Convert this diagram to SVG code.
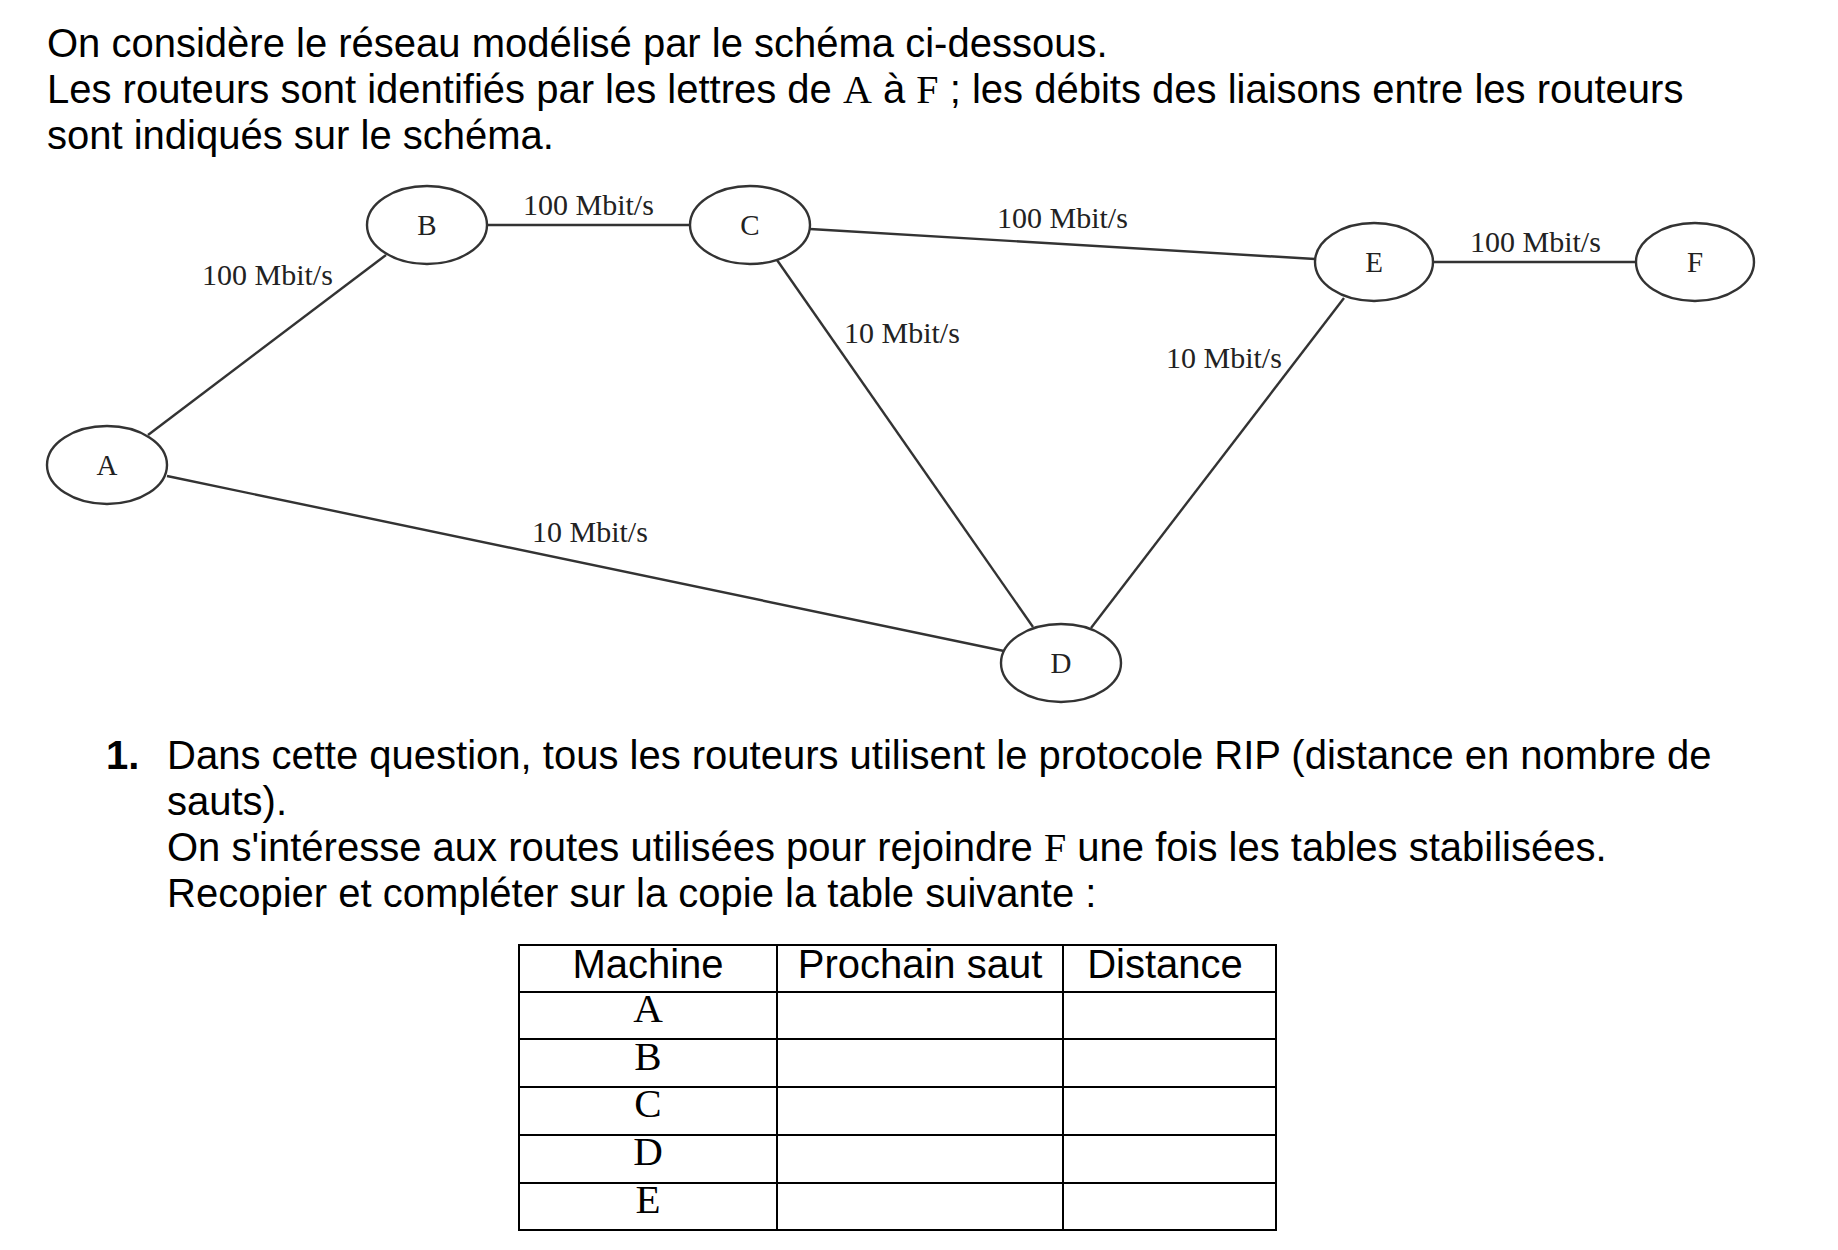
<svg xmlns="http://www.w3.org/2000/svg" width="1838" height="1250" viewBox="0 0 1838 1250">
<style>
.t{font-family:"Liberation Sans",Arial,sans-serif;font-size:40px;fill:#000}
.s{font-family:"Liberation Serif","Times New Roman",serif}
.b{font-weight:bold}
.lbl{font-family:"Liberation Serif","Times New Roman",serif;font-size:30px;fill:#222}
.nl{font-family:"Liberation Serif","Times New Roman",serif;font-size:29px;fill:#222;text-anchor:middle}
.node ellipse{fill:#fff;stroke:#333;stroke-width:2.4}
.edge{stroke:#333;stroke-width:2.4;fill:none}
.grid{stroke:#000;stroke-width:2;fill:none}
.th{font-family:"Liberation Sans",Arial,sans-serif;font-size:40px;text-anchor:middle}
.td{font-family:"Liberation Serif","Times New Roman",serif;font-size:41px;text-anchor:middle}
</style>
<rect width="1838" height="1250" fill="#fff"/>
<g id="intro">
<text class="t" x="47" y="57">On considère le réseau modélisé par le schéma ci-dessous.</text>
<text class="t" x="47" y="103">Les routeurs sont identifiés par les lettres de <tspan class="s">A</tspan> à <tspan class="s">F</tspan> ; les débits des liaisons entre les routeurs</text>
<text class="t" x="47" y="149">sont indiqués sur le schéma.</text>
</g>
<g id="connectors">
<line class="edge" x1="148" y1="435" x2="386" y2="255"/>
<line class="edge" x1="488" y1="225" x2="690" y2="225"/>
<line class="edge" x1="810" y1="229" x2="1315" y2="259"/>
<line class="edge" x1="1433" y1="262" x2="1635" y2="262"/>
<line class="edge" x1="777" y1="260" x2="1033" y2="627"/>
<line class="edge" x1="1344" y1="298" x2="1091" y2="628"/>
<line class="edge" x1="167" y1="476" x2="1004" y2="651"/>
<text class="lbl" x="202" y="285">100 Mbit/s</text>
<text class="lbl" x="523" y="215">100 Mbit/s</text>
<text class="lbl" x="997" y="228">100 Mbit/s</text>
<text class="lbl" x="1470" y="252">100 Mbit/s</text>
<text class="lbl" x="844" y="343">10 Mbit/s</text>
<text class="lbl" x="1166" y="368">10 Mbit/s</text>
<text class="lbl" x="532" y="542">10 Mbit/s</text>
</g>
<g id="node-A" class="node"><ellipse cx="107" cy="465" rx="60" ry="39"/><text class="nl" x="107" y="475">A</text></g>
<g id="node-B" class="node"><ellipse cx="427" cy="225" rx="60" ry="39"/><text class="nl" x="427" y="235">B</text></g>
<g id="node-C" class="node"><ellipse cx="750" cy="225" rx="60" ry="39"/><text class="nl" x="750" y="235">C</text></g>
<g id="node-D" class="node"><ellipse cx="1061" cy="663" rx="60" ry="39"/><text class="nl" x="1061" y="673">D</text></g>
<g id="node-E" class="node"><ellipse cx="1374" cy="262" rx="59" ry="39"/><text class="nl" x="1374" y="272">E</text></g>
<g id="node-F" class="node"><ellipse cx="1695" cy="262" rx="59" ry="39"/><text class="nl" x="1695" y="272">F</text></g>
<g id="question">
<text class="t b" x="106" y="769">1.</text>
<text class="t" x="167" y="769">Dans cette question, tous les routeurs utilisent le protocole RIP (distance en nombre de</text>
<text class="t" x="167" y="815">sauts).</text>
<text class="t" x="167" y="861">On s'intéresse aux routes utilisées pour rejoindre <tspan class="s">F</tspan> une fois les tables stabilisées.</text>
<text class="t" x="167" y="907">Recopier et compléter sur la copie la table suivante :</text>
</g>
<g id="table">
<rect class="grid" x="519" y="945" width="757" height="285"/>
<line class="grid" x1="777" y1="945" x2="777" y2="1230"/>
<line class="grid" x1="1063" y1="945" x2="1063" y2="1230"/>
<line class="grid" x1="519" y1="992" x2="1276" y2="992"/>
<line class="grid" x1="519" y1="1039" x2="1276" y2="1039"/>
<line class="grid" x1="519" y1="1087" x2="1276" y2="1087"/>
<line class="grid" x1="519" y1="1135" x2="1276" y2="1135"/>
<line class="grid" x1="519" y1="1183" x2="1276" y2="1183"/>
<text class="th" x="648" y="978">Machine</text>
<text class="th" x="920" y="978">Prochain saut</text>
<text class="th" x="1165" y="978">Distance</text>
<text class="td" x="648" y="1022">A</text>
<text class="td" x="648" y="1070">B</text>
<text class="td" x="648" y="1117">C</text>
<text class="td" x="648" y="1165">D</text>
<text class="td" x="648" y="1213">E</text>
</g>
</svg>
